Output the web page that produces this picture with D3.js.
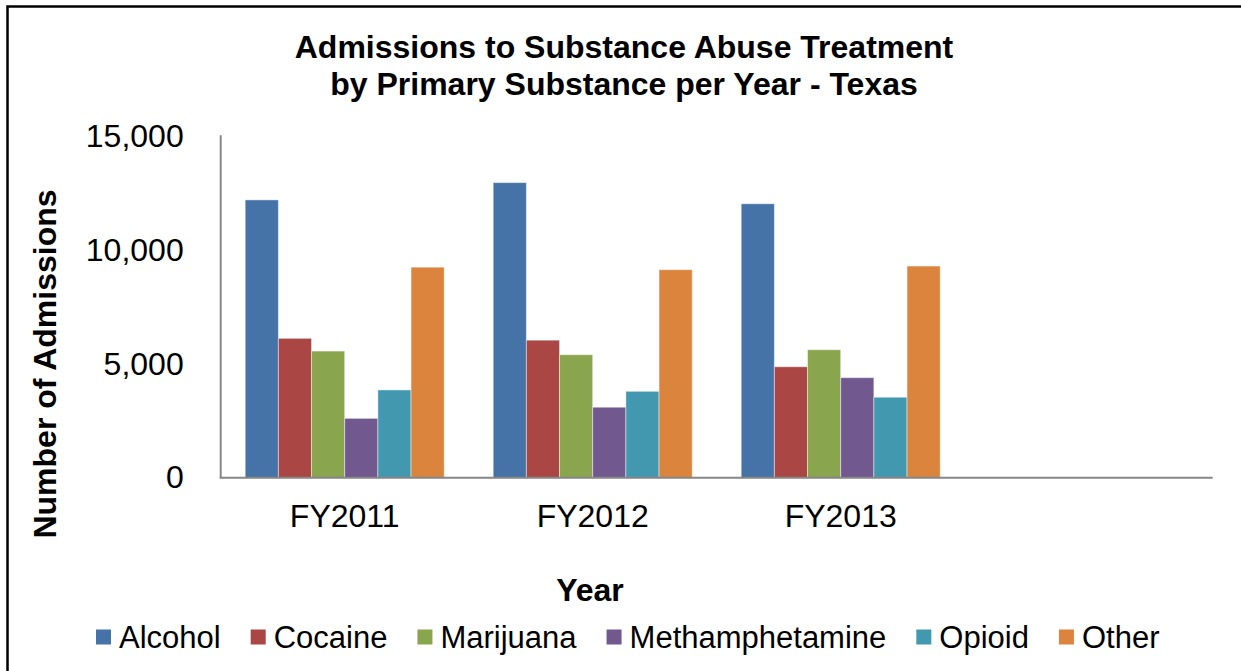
<!DOCTYPE html>
<html>
<head>
<meta charset="utf-8">
<script src="https://cdn.jsdelivr.net/npm/d3@7"></script>
<style>
  html, body { margin: 0; padding: 0; background: #ffffff; }
  svg { display: block; font-family: "Liberation Sans", Arial, sans-serif; }
</style>
</head>
<body>
<svg id="chart" width="1241" height="671"></svg>
<script>
// Fiscal years on the category axis (the fourth slot is left empty)
const categories = ["FY2011", "FY2012", "FY2013", ""];
const years = ["FY2011", "FY2012", "FY2013"];

// Primary substance series
const seriesNames = ["Alcohol", "Cocaine", "Marijuana", "Methamphetamine", "Opioid", "Other"];
const seriesColors = ["#4572A7", "#AA4643", "#89A54E", "#71588F", "#4198AF", "#DB843D"];

// Admissions per year, one array per substance (FY2011, FY2012, FY2013)
const alcohol = [12220, 12980, 12050];
const cocaine = [6130, 6050, 4880];
const marijuana = [5570, 5410, 5630];
const methamphetamine = [2610, 3100, 4400];
const opioid = [3860, 3800, 3540];
const other = [9260, 9150, 9310];

// Value axis ticks
const yTicks = [0, 5000, 10000, 15000];

const seriesValues = [alcohol, cocaine, marijuana, methamphetamine, opioid, other];

const FONT = "'Liberation Sans', Arial, sans-serif";
const svg = d3.select("#chart");

// Outer frame
svg.append("rect")
  .attr("x", 7.5).attr("y", 6.5)
  .attr("width", 1260).attr("height", 700)
  .attr("fill", "none").attr("stroke", "#000").attr("stroke-width", 2.5);

const plot = { left: 220.7, right: 1212.7, top: 136.7, bottom: 477.7 };

const x0 = d3.scaleBand().domain(d3.range(categories.length))
  .range([plot.left, plot.right]).paddingInner(0).paddingOuter(0);
const groupPad = 24.5;
const x1 = d3.scaleBand().domain(seriesNames)
  .range([groupPad, x0.bandwidth() - groupPad]).padding(0);
const y = d3.scaleLinear().domain([0, 15000]).range([plot.bottom, plot.top]);

// Bars
const rows = [];
years.forEach((yr, i) => {
  seriesNames.forEach((s, j) => {
    rows.push({ i, series: s, color: seriesColors[j], value: seriesValues[j][i] });
  });
});

svg.append("g").selectAll("rect")
  .data(rows)
  .join("rect")
  .attr("x", d => x0(d.i) + x1(d.series))
  .attr("y", d => y(d.value))
  .attr("width", x1.bandwidth())
  .attr("height", d => y(0) - y(d.value))
  .attr("fill", d => d.color)
  .attr("stroke", "rgba(255,255,255,0.45)")
  .attr("stroke-width", 1);

// Y axis
const yAxis = svg.append("g")
  .attr("transform", `translate(${plot.left},0)`)
  .call(d3.axisLeft(y).tickValues(yTicks).tickSize(0).tickPadding(37)
    .tickFormat(d3.format(",")));
yAxis.select(".domain").attr("stroke", "#868686").attr("stroke-width", 2)
  .attr("d", `M0,${plot.top - 1.5}V${plot.bottom}`);
yAxis.selectAll("text")
  .attr("font-size", 32).attr("fill", "#000").attr("font-family", FONT);

// X axis
const xAxis = svg.append("g")
  .attr("transform", `translate(0,${plot.bottom})`)
  .call(d3.axisBottom(x0).tickSize(0).tickPadding(27)
    .tickFormat(i => categories[i]));
xAxis.select(".domain").attr("stroke", "#868686").attr("stroke-width", 2)
  .attr("d", `M${plot.left - 1},0H${plot.right}`);
xAxis.selectAll("text")
  .attr("font-size", 32).attr("fill", "#000").attr("font-family", FONT);

// Title
const title = svg.append("text")
  .attr("text-anchor", "middle")
  .attr("font-size", 32).attr("font-weight", "bold").attr("fill", "#000");
title.append("tspan").attr("x", 624).attr("y", 58)
  .text("Admissions to Substance Abuse Treatment");
title.append("tspan").attr("x", 624).attr("y", 95)
  .text("by Primary Substance per Year - Texas");

// Axis titles
svg.append("text")
  .attr("transform", "translate(56,364) rotate(-90)")
  .attr("text-anchor", "middle")
  .attr("font-size", 32).attr("font-weight", "bold").attr("fill", "#000")
  .text("Number of Admissions");

svg.append("text")
  .attr("x", 590).attr("y", 601)
  .attr("text-anchor", "middle")
  .attr("font-size", 32).attr("font-weight", "bold").attr("fill", "#000")
  .text("Year");

// Legend
const legend = svg.append("g");
let lx = 96;
const ly = 637;
seriesNames.forEach((s, j) => {
  legend.append("rect")
    .attr("x", lx).attr("y", ly - 7.5)
    .attr("width", 15).attr("height", 15)
    .attr("fill", seriesColors[j]);
  const t = legend.append("text")
    .attr("x", lx + 23).attr("y", ly + 11)
    .attr("font-size", 31).attr("fill", "#000")
    .text(s);
  lx += 23 + t.node().getComputedTextLength() + 30;
});
</script>
</body>
</html>
